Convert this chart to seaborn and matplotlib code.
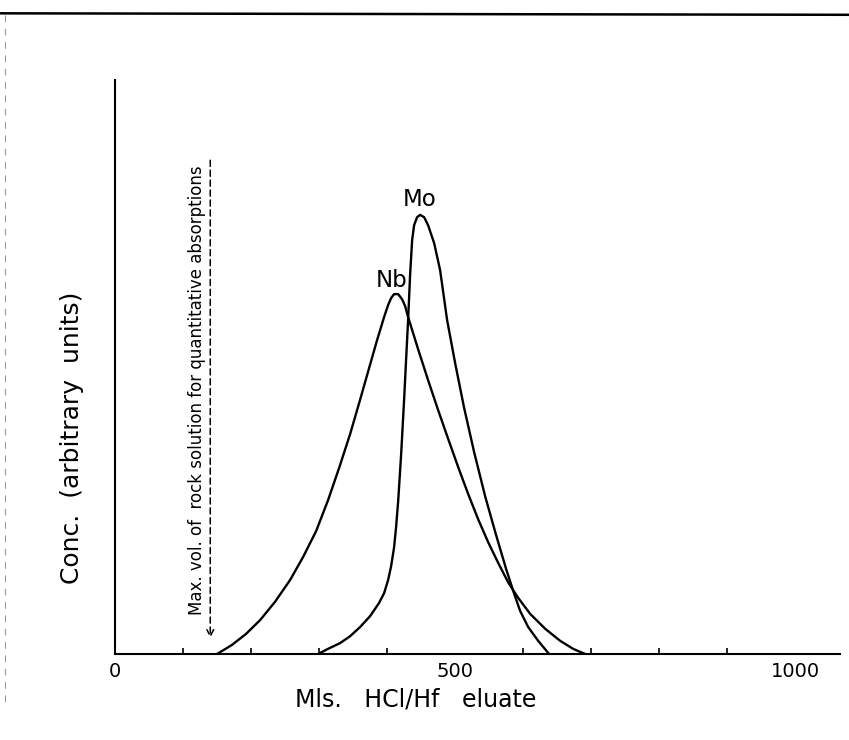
import matplotlib
matplotlib.use("Agg")
import matplotlib.pyplot as plt
from matplotlib.lines import Line2D
import seaborn as sns
import pandas as pd

# Elution curves: volume of HCl/HF eluate (ml) vs. concentration (arbitrary units)
nb_ml = [150.0, 172.1, 192.6, 213.2, 235.3, 257.4, 276.5, 295.6, 313.2, 329.4,
         345.6, 360.3, 373.5, 385.3, 395.6, 401.5, 405.9, 410.3, 416.2, 422.1,
         426.5, 430.9, 445.6, 460.3, 475.0, 489.7, 504.4, 519.1, 533.8, 548.5,
         563.2, 577.9, 592.6, 610.3, 632.4, 654.4, 673.5, 691.2]
nb_conc = [0.0, 1.6, 3.5, 5.9, 9.1, 12.9, 16.9, 21.4, 26.8, 32.4,
           38.3, 44.3, 49.8, 54.7, 58.7, 60.8, 62.0, 62.7, 62.7, 61.8,
           60.6, 58.7, 53.1, 47.7, 42.5, 37.5, 32.6, 27.9, 23.5, 19.5,
           15.9, 12.5, 9.8, 7.0, 4.4, 2.3, 0.9, 0.0]

mo_ml = [298.5, 313.2, 330.9, 345.6, 360.3, 375.0, 388.2, 395.6, 401.5, 405.9,
         410.3, 413.2, 416.2, 420.6, 425.0, 427.9, 430.9, 433.8, 436.8, 439.7,
         444.1, 448.5, 454.4, 460.3, 469.1, 477.9, 488.2, 500.0, 513.2, 527.9,
         544.1, 560.3, 575.0, 586.8, 595.6, 607.4, 622.1, 638.2]
mo_conc = [0.0, 0.9, 1.9, 3.1, 4.7, 6.6, 8.9, 10.6, 12.9, 15.3,
           18.6, 22.1, 26.5, 34.7, 44.3, 51.2, 58.2, 66.0, 72.1, 74.7,
           76.1, 76.5, 76.1, 74.7, 71.6, 66.9, 58.2, 50.7, 42.9, 35.2,
           27.5, 20.7, 14.8, 10.5, 7.5, 4.7, 2.3, 0.0]

# Maximum volume of rock solution for quantitative absorption (ml)
max_vol_ml = 140

x_tick_labels = ["0", "500", "1000"]
x_tick_values = [0, 500, 1000]

df = pd.concat([
    pd.DataFrame({"ml": nb_ml, "conc": nb_conc, "element": "Nb"}),
    pd.DataFrame({"ml": mo_ml, "conc": mo_conc, "element": "Mo"}),
], ignore_index=True)

sns.set_theme(style="white")
plt.rcParams["font.family"] = ["DejaVu Sans"]

fig = plt.figure(figsize=(8.49, 7.40), dpi=100)
ax = fig.add_axes([0.1355, 0.1162, 0.854, 0.7757])

sns.lineplot(data=df, x="ml", y="conc", hue="element",
             palette={"Nb": "black", "Mo": "black"}, estimator=None,
             linewidth=1.7, legend=False, ax=ax)

ax.set_xlim(0, 1066)
ax.set_ylim(0, 100)

for s in ["top", "right"]:
    ax.spines[s].set_visible(False)
for s in ["left", "bottom"]:
    ax.spines[s].set_color("black")
    ax.spines[s].set_linewidth(1.5)

ax.set_xticks(x_tick_values)
ax.set_xticklabels(x_tick_labels, fontsize=14)
ax.set_xticks(list(range(100, 1001, 100)), minor=True)
ax.tick_params(axis="x", which="major", length=0, pad=6, colors="black")
ax.tick_params(axis="x", which="minor", direction="in", length=4, width=1.2,
               bottom=True, colors="black")
ax.set_yticks([])

ax.set_xlabel("Mls.   HCl/Hf   eluate", fontsize=17, labelpad=4, color="black")
ax.xaxis.set_label_coords(0.414, -0.058)
ax.set_ylabel("Conc.  (arbitrary  units)", fontsize=18, color="black")
ax.yaxis.set_label_coords(-0.043, 0.376)

# Peak labels
nb_i = nb_conc.index(max(nb_conc))
mo_i = mo_conc.index(max(mo_conc))
ax.text(nb_ml[nb_i] - 4, nb_conc[nb_i] + 0.4, "Nb", fontsize=16.5,
        ha="center", va="bottom", color="black")
ax.text(mo_ml[mo_i], mo_conc[mo_i] + 0.6, "Mo", fontsize=16.5,
        ha="center", va="bottom", color="black")

# Dashed arrow marking the maximum rock-solution volume
ax.annotate("", xy=(max_vol_ml, 2.3), xytext=(max_vol_ml, 86.5),
            arrowprops=dict(arrowstyle="->", linestyle=(0, (4, 2.5)),
                            color="black", lw=1.1, mutation_scale=12))
ax.text(max_vol_ml - 19, 46, "Max. vol. of  rock solution for quantitative absorptions",
        rotation=90, fontsize=12, ha="center", va="center", color="black")

# Frame edges along the top and left of the sheet
fig.add_artist(Line2D([0.0, 1.0], [0.982, 0.980], transform=fig.transFigure,
                      color="black", lw=1.8))
fig.add_artist(Line2D([0.006, 0.006], [0.98, 0.05], transform=fig.transFigure,
                      color="0.6", lw=0.8, linestyle=(0, (6, 6))))

fig.savefig("out.png", dpi=100, facecolor="white")
